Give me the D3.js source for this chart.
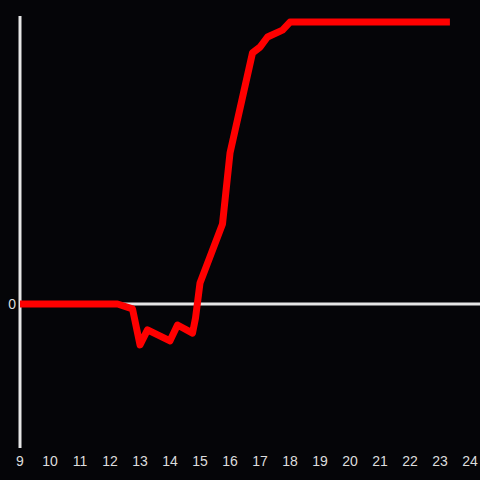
<!DOCTYPE html>
<html lang="en">
<head>
  <meta charset="UTF-8">
  <title>Line</title>
  <script src="https://d3js.org/d3.v7.min.js"></script>
  <style>
    html, body { margin: 0; padding: 0; background: #050508; }
    svg { display: block; }
  </style>
</head>
<body>
  <script>
    const hours = [9, 12.25, 12.75, 13, 13.25, 14, 14.25, 14.75, 14.85, 15, 15.75, 16, 16.75, 17, 17.25, 17.75, 18, 23.33];
    const values = [0, 0, -1.7, -14.2, -9, -12.8, -7.3, -10.1, -4.9, 7.3, 27.8, 52.4, 87.2, 89.2, 92.7, 95.1, 97.9, 97.9];
    const xTicks = d3.range(9, 25);

    const width = 480, height = 480;

    const svg = d3.select("body")
      .append("svg")
      .attr("width", width)
      .attr("height", height);

    svg.append("rect")
      .attr("width", width)
      .attr("height", height)
      .attr("fill", "#050508");

    const x = d3.scaleLinear().domain([9, 24]).range([20, 470]);
    const y = d3.scaleLinear().domain([-50, 100]).range([448, 16]);

    // y axis line
    svg.append("line")
      .attr("x1", x(9)).attr("x2", x(9))
      .attr("y1", y(100)).attr("y2", y(-50))
      .attr("stroke", "#e6e6e6")
      .attr("stroke-width", 3);

    // zero line
    svg.append("line")
      .attr("x1", x(9)).attr("x2", width)
      .attr("y1", y(0)).attr("y2", y(0))
      .attr("stroke", "#e6e6e6")
      .attr("stroke-width", 3);

    svg.append("text")
      .attr("x", x(9) - 4)
      .attr("y", y(0))
      .attr("dy", "0.35em")
      .attr("text-anchor", "end")
      .attr("fill", "#dddddd")
      .attr("font-family", "Liberation Sans, Arial, sans-serif")
      .attr("font-size", 14)
      .text("0");

    svg.append("g")
      .selectAll("text")
      .data(xTicks)
      .join("text")
      .attr("x", d => x(d))
      .attr("y", 461)
      .attr("dy", "0.35em")
      .attr("text-anchor", "middle")
      .attr("fill", "#dddddd")
      .attr("font-family", "Liberation Sans, Arial, sans-serif")
      .attr("font-size", 14)
      .text(d => d);

    const line = d3.line()
      .x((d, i) => x(hours[i]))
      .y(d => y(d));

    svg.append("path")
      .datum(values)
      .attr("d", line)
      .attr("fill", "none")
      .attr("stroke", "#ff0000")
      .attr("stroke-width", 7)
      .attr("stroke-linejoin", "round");
  </script>
</body>
</html>
